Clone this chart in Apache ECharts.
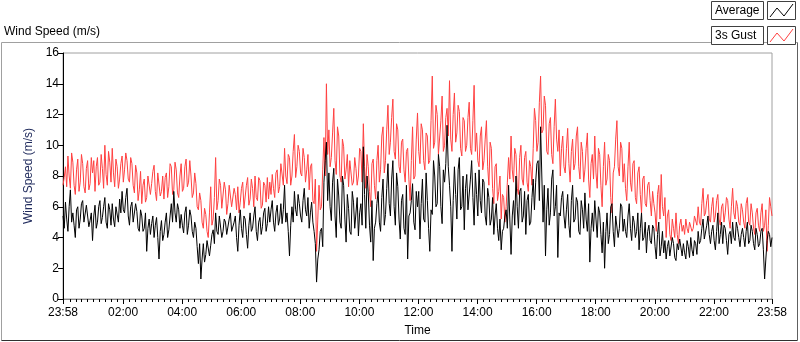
<!DOCTYPE html>
<html>
<head>
  <meta charset="utf-8">
  <title>Wind Speed</title>
  <script src="https://cdn.jsdelivr.net/npm/echarts@6/dist/echarts.min.js"></script>
</head>
<body style="margin:0">
<div id="main" style="width:800px;height:342px;"></div>
<script type="text/javascript">
  // readings every 5 minutes from the 23:58 start, plus the readings half way between them
  var stepMin = 5;

  // 3s gust (m/s) at 0, 5, 10 ... min, one row per hour
  var gust = [
    7.4, 8.6, 9.3, 7.2, 8.9, 6.8, 9.1, 7.6, 8.8, 6.9, 9.0, 7.5,
    8.2, 7.0, 9.2, 7.6, 8.5, 10.0, 7.4, 8.9, 9.8, 7.3, 8.6, 7.8,
    9.3, 8.4, 9.0, 7.6, 8.8, 6.9, 8.2, 7.1, 6.2, 7.8, 6.6, 8.1,
    7.5, 8.7, 6.4, 8.3, 7.0, 6.5, 8.2, 7.3, 8.6, 7.1, 8.4, 6.6,
    8.8, 7.2, 9.1, 7.6, 8.0, 6.9, 7.5, 5.8, 6.4, 4.6, 5.5, 4.0,
    7.3, 5.2, 9.2, 6.4, 7.4, 6.0, 7.1, 6.2, 7.5, 5.9, 6.8, 7.3,
    6.3, 7.6, 6.0, 7.9, 6.5, 7.2, 8.0, 6.4, 7.7, 6.1, 7.4, 7.9,
    7.6, 8.1, 6.6, 8.4, 7.3, 8.7, 9.8, 7.5, 9.2, 8.0, 10.7, 8.6,
    9.6, 8.0, 9.2, 8.4, 7.1, 8.8, 6.2, 3.1, 7.4, 6.0, 10.5, 14.0,
    11.0, 9.2, 12.4, 8.1, 10.6, 7.6, 9.9, 8.4, 7.3, 8.9, 7.6, 8.5,
    8.0, 9.6, 11.4, 7.2, 8.6, 6.0, 9.1, 6.5, 10.0, 8.4, 11.2, 9.0,
    12.6, 10.2, 13.0, 9.1, 11.0, 8.2, 10.4, 7.6, 9.8, 6.4, 11.2, 8.0,
    12.1, 8.8, 11.0, 8.4, 10.6, 9.0, 14.5, 10.2, 12.0, 9.3, 13.2, 10.0,
    12.4, 14.2, 9.6, 13.4, 10.8, 12.2, 9.3, 11.6, 10.0, 12.8, 9.4, 13.9,
    10.8, 8.6, 11.2, 9.0, 11.6, 7.4, 9.8, 6.2, 8.8, 7.0, 5.2, 6.6,
    6.0, 9.2, 10.6, 7.6, 9.4, 6.8, 10.0, 7.4, 9.6, 7.0, 8.6, 9.8,
    11.6, 10.2, 14.5, 11.0, 12.6, 9.4, 11.8, 8.8, 13.0, 9.6, 8.0, 10.6,
    8.2, 11.1, 7.6, 10.4, 8.8, 11.2, 7.8, 9.6, 8.4, 10.8, 6.6, 9.4,
    10.6, 7.2, 9.4, 6.0, 10.2, 7.8, 9.0, 5.6, 8.6, 11.6, 8.0, 9.8,
    8.8, 6.4, 10.2, 7.0, 9.0, 6.2, 8.6, 5.6, 8.0, 6.0, 7.6, 5.4,
    6.2, 4.4, 7.4, 8.1, 5.4, 4.0, 5.8, 3.8, 4.6, 5.6, 3.6, 5.2,
    4.8, 5.2, 4.3, 5.0, 4.6, 5.3, 6.0, 4.8, 7.2, 5.6, 6.8, 5.0,
    6.6, 5.4, 6.8, 4.8, 6.2, 5.6, 6.4, 4.6, 7.2, 5.2, 6.0, 4.8,
    5.8, 4.6, 6.6, 4.8, 5.6, 4.2, 5.9, 4.4, 6.2, 4.8, 3.1, 6.6, 5.4
  ];
  // 3s gust at 2.5, 7.5, 12.5 ... min
  var gustMid = [
    7.9, 7.3, 8.0, 9.5, 7.4, 8.4, 7.0, 9.4, 7.3, 8.5, 7.1, 9.2,
    9.0, 8.6, 7.4, 9.4, 7.2, 8.1, 9.6, 7.6, 8.2, 9.1, 7.2, 8.8,
    7.6, 9.5, 7.8, 9.2, 7.4, 8.7, 6.4, 8.3, 7.4, 6.3, 8.0, 6.8,
    8.3, 7.0, 8.2, 6.7, 8.0, 7.9, 6.6, 8.8, 6.8, 8.9, 6.9, 8.0,
    7.0, 8.6, 7.3, 9.0, 6.6, 8.2, 6.0, 6.9, 5.0, 5.9, 4.4, 5.6,
    4.8, 6.6, 5.8, 7.8, 5.9, 7.6, 5.5, 7.4, 6.0, 7.2, 5.8, 5.6,
    7.2, 5.9, 7.4, 6.1, 7.8, 6.0, 6.6, 7.9, 5.9, 7.6, 6.3, 6.5,
    6.8, 7.2, 8.2, 6.9, 8.8, 7.4, 8.0, 9.4, 7.4, 9.6, 7.9, 10.0,
    8.2, 9.8, 7.6, 9.4, 8.6, 6.4, 7.8, 5.2, 5.8, 8.4, 8.0, 9.4,
    8.6, 10.8, 9.0, 11.2, 8.0, 10.4, 7.8, 9.4, 9.0, 7.4, 9.2, 7.4,
    9.8, 7.6, 8.6, 9.4, 7.0, 8.8, 7.4, 9.0, 7.6, 10.6, 8.2, 11.0,
    9.4, 11.8, 9.6, 11.4, 8.6, 10.2, 8.4, 9.6, 7.8, 9.0, 7.8, 10.4,
    9.6, 11.4, 9.0, 10.8, 8.8, 11.6, 9.8, 12.6, 9.4, 11.6, 9.6, 11.8,
    10.6, 10.4, 12.0, 10.2, 12.6, 9.8, 11.8, 9.6, 11.8, 9.8, 11.6, 9.6,
    9.0, 10.6, 8.4, 10.4, 8.6, 10.2, 7.2, 8.6, 6.4, 8.0, 6.8, 5.0,
    7.6, 7.8, 8.4, 9.8, 7.2, 9.2, 7.8, 9.2, 7.6, 9.0, 7.4, 12.4,
    9.6, 12.8, 10.8, 13.2, 9.6, 11.4, 9.4, 11.2, 10.4, 11.0, 9.8, 8.6,
    9.8, 8.8, 9.6, 8.4, 10.6, 8.6, 10.2, 7.6, 9.8, 7.8, 8.8, 7.8,
    8.2, 9.8, 7.4, 8.6, 7.4, 9.4, 6.6, 8.2, 10.4, 8.6, 10.2, 7.6,
    7.2, 8.6, 7.6, 8.8, 6.6, 8.2, 6.8, 7.8, 6.2, 7.4, 6.4, 7.0,
    5.6, 6.8, 5.2, 6.0, 6.6, 5.4, 4.2, 5.2, 4.0, 4.2, 4.8, 4.4,
    4.2, 4.6, 5.0, 4.4, 5.4, 4.8, 5.0, 6.2, 5.4, 6.4, 5.2, 6.0,
    5.0, 6.4, 5.2, 6.0, 5.0, 6.6, 5.2, 6.0, 5.6, 6.4, 5.0, 6.2,
    5.0, 6.2, 5.0, 6.2, 4.6, 5.6, 4.8, 5.6, 4.4, 5.8, 4.8, 6.0
  ];

  // average wind speed (m/s) at 0, 5, 10 ... min
  var average = [
    5.4, 6.3, 4.4, 7.1, 5.6, 4.0, 6.0, 5.2, 6.4, 4.9, 6.2, 5.1,
    3.8, 6.1, 5.0, 6.4, 5.3, 6.6, 4.6, 5.8, 6.2, 4.7, 5.9, 6.5,
    7.0, 5.6, 7.2, 4.8, 6.3, 5.1, 5.7, 4.4, 5.4, 4.6, 3.1, 5.2,
    4.9, 4.0, 5.3, 2.6, 5.1, 4.2, 5.6, 4.5, 6.2, 7.0, 5.0, 5.8,
    5.5, 4.3, 6.0, 4.8, 5.4, 4.0, 4.6, 2.3, 1.3, 3.6, 2.9, 3.8,
    3.5, 4.5, 5.6, 4.2, 5.3, 4.4, 5.0, 4.1, 5.6, 4.3, 5.4, 3.1,
    5.8, 4.0, 5.2, 3.3, 5.6, 4.6, 6.0, 3.8, 5.3, 4.7, 5.9, 4.9,
    5.0, 6.4, 4.4, 6.1, 5.2, 4.9, 7.4, 5.6, 2.8, 6.0, 7.0, 5.4,
    6.2, 5.0, 7.2, 5.4, 4.6, 6.3, 4.4, 1.1, 3.2, 4.6, 7.6, 10.2,
    8.2, 5.1, 8.5, 4.0, 6.7, 4.6, 7.4, 3.7, 5.9, 4.2, 6.3, 4.7,
    4.1, 6.2, 9.9, 4.6, 6.9, 3.7, 2.5, 5.0, 7.0, 4.4, 7.8, 5.5,
    8.8, 5.4, 9.0, 4.8, 7.3, 3.9, 6.8, 4.2, 2.6, 5.6, 7.5, 4.5,
    6.0, 3.9, 7.8, 5.0, 6.4, 3.1, 5.5, 8.0, 6.2, 8.6, 4.9, 7.6,
    11.3, 7.4, 3.1, 8.6, 5.2, 9.2, 6.0, 4.5, 8.1, 5.8, 9.0, 4.8,
    6.8, 8.4, 5.6, 7.6, 4.8, 6.6, 5.2, 4.2, 6.2, 3.8, 3.2, 4.6,
    5.8, 7.4, 2.9, 6.4, 8.0, 4.6, 7.2, 5.4, 4.2, 6.8, 5.0, 7.8,
    7.6, 9.0, 11.2, 5.0, 2.8, 7.2, 5.6, 8.4, 6.0, 2.7, 5.4, 7.0,
    4.6, 6.8, 4.0, 7.4, 5.2, 6.3, 4.2, 5.8, 6.9, 4.4, 2.4, 5.6,
    6.4, 4.0, 5.6, 3.0, 2.0, 5.6, 4.2, 6.2, 3.4, 5.4, 4.6, 6.0,
    5.2, 4.0, 6.2, 3.8, 5.0, 4.4, 3.2, 5.6, 4.0, 3.0, 4.8, 3.6,
    4.6, 2.6, 5.0, 3.4, 3.0, 2.6, 3.8, 2.9, 3.6, 2.5, 3.2, 3.8,
    3.6, 2.6, 3.4, 4.0, 2.8, 3.6, 4.4, 3.8, 5.2, 4.0, 5.4, 3.6,
    4.8, 3.2, 5.6, 4.2, 3.6, 4.6, 2.9, 4.4, 5.0, 3.8, 4.6, 3.4,
    4.6, 3.4, 5.0, 3.8, 4.4, 3.2, 4.2, 3.6, 4.6, 1.3, 3.8, 4.2, 4.0
  ];
  // average at 2.5, 7.5, 12.5 ... min
  var averageMid = [
    4.6, 5.2, 6.0, 5.0, 4.8, 5.8, 4.6, 6.2, 5.0, 6.1, 4.7, 5.6,
    5.4, 4.6, 6.0, 4.9, 6.0, 5.0, 6.2, 4.8, 5.2, 6.0, 5.0, 5.6,
    5.8, 6.6, 5.4, 6.0, 5.0, 6.2, 4.6, 5.8, 4.4, 5.6, 4.6, 4.2,
    5.4, 4.8, 4.0, 4.4, 3.8, 5.0, 4.0, 5.4, 5.0, 5.6, 6.2, 4.6,
    4.8, 5.6, 4.2, 5.8, 4.4, 5.0, 3.4, 3.6, 2.6, 2.4, 3.8, 2.8,
    4.2, 3.6, 4.4, 5.4, 4.0, 5.2, 4.2, 5.2, 4.4, 5.0, 4.0, 4.8,
    4.6, 5.4, 4.2, 4.8, 4.4, 5.4, 4.4, 5.0, 4.2, 5.6, 4.4, 6.0,
    5.8, 5.0, 5.6, 4.8, 6.2, 5.8, 5.0, 4.4, 4.8, 5.0, 5.8, 6.8,
    5.4, 6.4, 5.8, 6.6, 5.6, 5.0, 3.6, 2.6, 4.4, 3.4, 9.0, 6.4,
    6.0, 7.6, 5.4, 7.8, 5.0, 8.0, 5.2, 6.8, 4.4, 7.0, 4.6, 6.6,
    5.6, 4.8, 6.8, 8.0, 4.8, 6.4, 4.6, 6.2, 5.0, 6.6, 4.8, 7.2,
    6.2, 7.8, 6.0, 8.2, 5.2, 6.4, 4.6, 7.4, 5.4, 6.4, 5.0, 7.0,
    7.0, 6.2, 5.2, 8.2, 4.6, 5.8, 9.0, 6.0, 9.4, 6.0, 8.4, 8.8,
    8.6, 6.0, 6.4, 6.8, 8.4, 5.8, 8.0, 7.2, 5.8, 7.8, 6.6, 8.2,
    5.4, 6.4, 7.8, 5.4, 7.2, 4.8, 6.6, 5.4, 4.6, 5.2, 4.4, 5.4,
    4.6, 5.2, 5.4, 4.8, 6.0, 7.0, 5.0, 7.0, 6.4, 4.8, 6.6, 5.8,
    8.8, 6.4, 8.0, 7.4, 5.8, 4.8, 7.8, 5.4, 7.4, 5.6, 6.6, 5.4,
    5.8, 4.8, 6.4, 5.0, 6.6, 4.4, 6.4, 4.6, 5.2, 6.2, 4.6, 4.4,
    5.2, 6.0, 4.2, 5.0, 4.4, 3.6, 6.0, 4.4, 5.4, 4.0, 6.2, 4.4,
    4.4, 5.4, 4.6, 5.4, 4.0, 5.6, 4.6, 3.8, 5.0, 4.4, 3.8, 4.8,
    3.4, 4.2, 2.8, 4.4, 3.8, 3.4, 2.8, 4.0, 2.7, 3.6, 3.9, 2.8,
    3.0, 3.8, 2.7, 3.2, 3.8, 2.9, 3.6, 4.6, 3.9, 4.8, 4.2, 4.4,
    3.8, 4.4, 3.6, 5.0, 4.8, 3.8, 4.2, 3.6, 4.0, 5.0, 4.0, 4.2,
    4.0, 4.4, 3.6, 4.8, 3.6, 4.6, 3.4, 4.4, 3.2, 2.6, 4.4, 3.4
  ];

  // x axis labels (minutes since 23:58)
  var tickTimes = [0, 122, 242, 362, 482, 602, 722, 842, 962, 1082, 1202, 1322, 1440];
  var tickLabels = ['23:58', '02:00', '04:00', '06:00', '08:00', '10:00', '12:00',
                    '14:00', '16:00', '18:00', '20:00', '22:00', '23:58'];
  // minor ticks every 12 minutes
  var minorTimes = [];
  for (var k = 1; k < 120; k++) minorTimes.push(2 + 12 * k);

  var chart = echarts.init(document.getElementById('main'));
  var font = '12px "Liberation Sans"';

  // merge the on-step and half-step readings into [minute, value] pairs
  function toPairs(main, mid) {
    var out = [];
    for (var i = 0; i < main.length; i++) {
      out.push([i * stepMin, main[i]]);
      if (i < mid.length) out.push([i * stepMin + stepMin / 2, mid[i]]);
    }
    return out;
  }

  var option = {
    animation: false,
    textStyle: { fontFamily: 'Liberation Sans' },
    grid: { left: 63, right: 28, top: 53, bottom: 39, show: true, borderColor: '#a0a0a0', borderWidth: 1 },
    xAxis: [{
      type: 'value', min: 0, max: 1440, position: 'bottom',
      name: 'Time', nameLocation: 'middle', nameGap: 26,
      nameTextStyle: { color: '#000', fontSize: 12 },
      axisLine: { onZero: false, lineStyle: { color: '#8a8a8a' } },
      axisTick: { customValues: tickTimes, length: 5, lineStyle: { color: '#000' } },
      axisLabel: {
        customValues: tickTimes, color: '#000', fontSize: 12, margin: 8,
        formatter: function (v) {
          var i = tickTimes.indexOf(v);
          return i >= 0 ? tickLabels[i] : '';
        }
      },
      splitLine: { show: false }
    }, {
      type: 'value', min: 0, max: 1440, position: 'bottom',
      axisLine: { show: false, onZero: false },
      axisTick: { customValues: minorTimes, length: 3, lineStyle: { color: '#000' } },
      axisLabel: { show: false },
      splitLine: { show: false }
    }],
    yAxis: {
      type: 'value', min: 0, max: 16, interval: 2,
      name: 'Wind Speed (m/s)', nameLocation: 'middle', nameGap: 25,
      nameTextStyle: { color: '#1f2a5c', fontSize: 12 },
      axisLine: { show: true, lineStyle: { color: '#000' } },
      axisTick: { show: true, length: 5, lineStyle: { color: '#000' } },
      axisLabel: { color: '#000', fontSize: 12, margin: 4 },
      splitLine: { show: false }
    },
    series: [
      {
        name: '3s Gust', type: 'line', data: toPairs(gust, gustMid), showSymbol: false,
        lineStyle: { color: '#ff4040', width: 1 }, itemStyle: { color: '#ff4040' }, z: 2
      },
      {
        name: 'Average', type: 'line', data: toPairs(average, averageMid), showSymbol: false,
        lineStyle: { color: '#000', width: 1 }, itemStyle: { color: '#000' }, z: 3
      }
    ],
    graphic: [
      // outer frame
      { type: 'line', silent: true, shape: { x1: 1.5, y1: 42.5, x2: 797.5, y2: 42.5 }, style: { stroke: '#a0a0a0' } },
      { type: 'line', silent: true, shape: { x1: 1.5, y1: 42.5, x2: 1.5, y2: 340.5 }, style: { stroke: '#a0a0a0' } },
      { type: 'line', silent: true, shape: { x1: 1.5, y1: 340.5, x2: 797.5, y2: 340.5 }, style: { stroke: '#303030' } },
      { type: 'line', silent: true, shape: { x1: 797.5, y1: 42.5, x2: 797.5, y2: 340.5 }, style: { stroke: '#606060' } },
      { type: 'text', silent: true, x: 4, y: 32, style: { text: 'Wind Speed (m/s)', font: font, fill: '#000', verticalAlign: 'middle' } },
      // legend
      { type: 'rect', silent: true, shape: { x: 711.5, y: 1.5, width: 52, height: 18 }, style: { fill: '#fff', stroke: '#404040' } },
      { type: 'text', silent: true, x: 715, y: 11, style: { text: 'Average', font: font, fill: '#000', verticalAlign: 'middle' } },
      { type: 'rect', silent: true, shape: { x: 767.5, y: 1.5, width: 28, height: 18 }, style: { fill: '#fff', stroke: '#404040' } },
      { type: 'polyline', silent: true, shape: { points: [[770, 17], [777, 8], [784, 16], [793, 4]] }, style: { stroke: '#000', fill: null } },
      { type: 'rect', silent: true, shape: { x: 711.5, y: 26.5, width: 52, height: 18 }, style: { fill: '#fff', stroke: '#404040' } },
      { type: 'text', silent: true, x: 715, y: 36, style: { text: '3s Gust', font: font, fill: '#000', verticalAlign: 'middle' } },
      { type: 'rect', silent: true, shape: { x: 767.5, y: 26.5, width: 28, height: 18 }, style: { fill: '#fff', stroke: '#404040' } },
      { type: 'polyline', silent: true, shape: { points: [[770, 42], [777, 33], [784, 41], [793, 29]] }, style: { stroke: '#ff4040', fill: null } }
    ]
  };

  chart.setOption(option);
</script>
</body>
</html>
